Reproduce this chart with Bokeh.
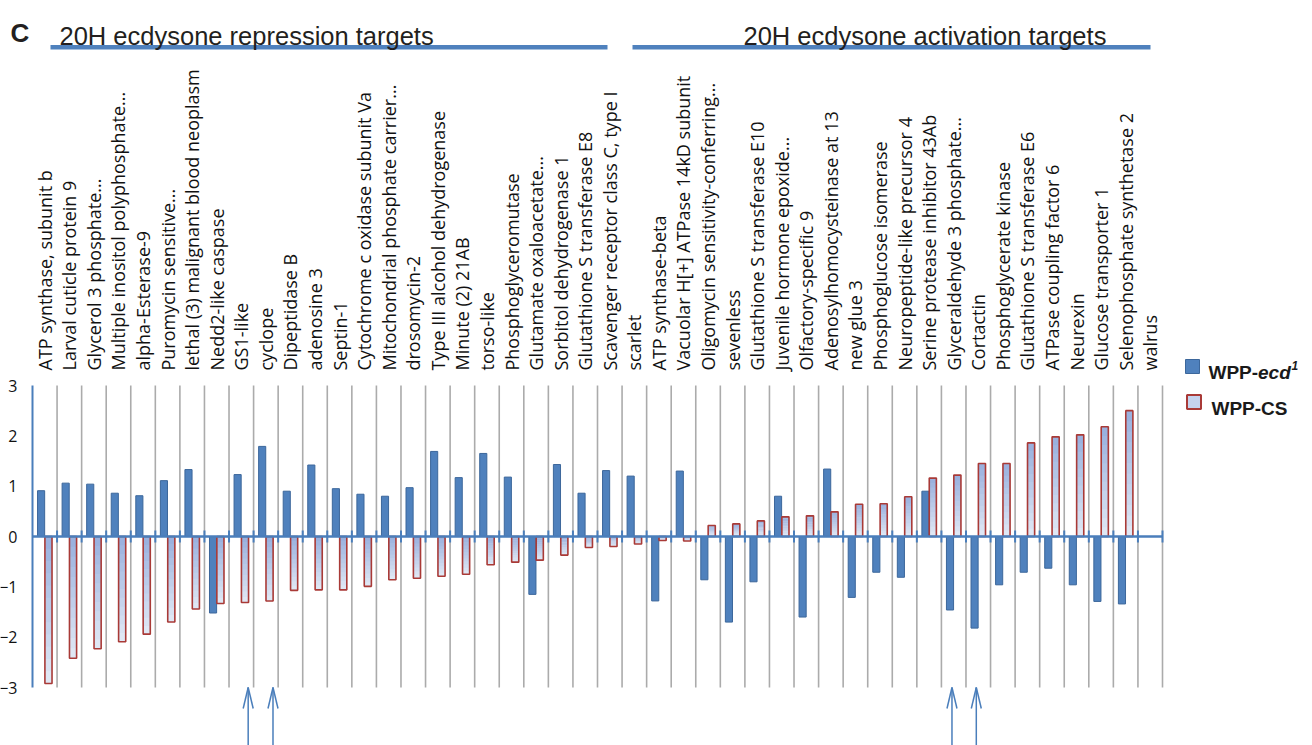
import math
import numpy as np
from bokeh.plotting import figure
from bokeh.models import Range1d, FixedTicker, Label
from bokeh.core.properties import value
from bokeh.embed import file_html
from bokeh.resources import INLINE

# ---------------- data ----------------
categories = [
    "ATP synthase, subunit b", "Larval cuticle protein 9", "Glycerol 3 phosphate...",
    "Multiple inositol polyphosphate...", "alpha-Esterase-9", "Puromycin sensitive...",
    "lethal (3) malignant blood neoplasm", "Nedd2-like caspase", "GS1-like", "cyclope",
    "Dipeptidase B", "adenosine 3", "Septin-1", "Cytochrome c oxidase subunit Va",
    "Mitochondrial phosphate carrier...", "drosomycin-2", "Type III alcohol dehydrogenase",
    "Minute (2) 21AB", "torso-like", "Phosphoglyceromutase", "Glutamate oxaloacetate...",
    "Sorbitol dehydrogenase 1", "Glutathione S transferase E8",
    "Scavenger receptor class C, type I", "scarlet", "ATP synthase-beta",
    "Vacuolar H[+] ATPase 14kD subunit", "Oligomycin sensitivity-conferring...",
    "sevenless", "Glutathione S transferase E10", "Juvenile hormone epoxide...",
    "Olfactory-specific 9", "Adenosylhomocysteinase at 13", "new glue 3",
    "Phosphoglucose isomerase", "Neuropeptide-like precursor 4",
    "Serine protease inhibitor 43Ab", "Glyceraldehyde 3 phosphate...", "Cortactin",
    "Phosphoglycerate kinase", "Glutathione S transferase E6", "ATPase coupling factor 6",
    "Neurexin", "Glucose transporter 1", "Selenophosphate synthetase 2", "walrus",
]

wpp_ecd = [0.91, 1.06, 1.04, 0.86, 0.81, 1.11, 1.33, -1.52, 1.23, 1.79,
           0.90, 1.42, 0.95, 0.84, 0.80, 0.97, 1.69, 1.17, 1.65, 1.18,
           -1.15, 1.43, 0.86, 1.31, 1.20, -1.28, 1.30, -0.86, -1.70, -0.90,
           0.80, -1.60, 1.34, -1.21, -0.71, -0.81, 0.90, -1.46, -1.82, -0.96,
           -0.71, -0.63, -0.96, -1.29, -1.34, float("nan")]

wpp_cs = [-2.92, -2.42, -2.23, -2.09, -1.94, -1.70, -1.44, -1.33, -1.31, -1.28,
          -1.07, -1.06, -1.06, -0.99, -0.86, -0.83, -0.79, -0.75, -0.56, -0.51,
          -0.47, -0.37, -0.22, -0.20, -0.15, -0.08, -0.09, 0.22, 0.25, 0.31,
          0.39, 0.41, 0.49, 0.64, 0.65, 0.79, 1.16, 1.22, 1.45, 1.45,
          1.86, 1.98, 2.02, 2.18, 2.50, float("nan")]

y_ticks = [-3, -2, -1, 0, 1, 2, 3]
group_titles = ["20H ecdysone repression targets", "20H ecdysone activation targets"]
panel_letter = "C"
series_names = ["WPP-", "ecd", "1", "WPP-CS"]
arrow_genes = ["GS1-like", "cyclope", "Glyceraldehyde 3 phosphate...", "Cortactin"]

# ---------------- layout (pixels) ----------------
W, H = 1312, 745
X0_PX = 32            # pixel column of x = 0 (the value axis)
n = len(categories)
PX_PER_X = 1130 / n
ZERO_PX = 536
PX_PER_Y = 302 / 6.0


def dx(px):
    return (px - X0_PX) / PX_PER_X


def dy(py):
    return (ZERO_PX - py) / PX_PER_Y


BLUE = "#4F81BD"
BLUE_EDGE = "#3C679B"
AXIS_BLUE = "#4A7EBB"
LIGHT = "#C5D3EE"
RED_EDGE = "#A93A37"
GRAD_TOP = np.array([0x97, 0xAF, 0xDD])
GRAD_BOT = np.array([0xE2, 0xE9, 0xF5])

p = figure(width=W, height=H, output_backend="svg", toolbar_location=None,
           x_axis_location=None, title=None,
           x_range=Range1d(dx(0), dx(W)), y_range=Range1d(dy(H), dy(0)),
           min_border_left=0, min_border_right=0, min_border_top=0, min_border_bottom=0)
p.outline_line_color = None
p.xgrid.visible = False
p.ygrid.visible = False
p.background_fill_color = "white"
p.border_fill_color = "white"

centers = np.arange(n) + 0.5
bounds = np.arange(1, n + 1)

# vertical category separators
p.segment(x0=bounds, y0=y_ticks[0], x1=bounds, y1=y_ticks[-1],
          line_color="#ABABAB", line_width=1.6)

# WPP-ecd1 bars
p.vbar(x=centers - 0.15, width=0.29, top=np.array(wpp_ecd), bottom=0,
       fill_color=BLUE, line_color=BLUE_EDGE, line_width=1)

# WPP-CS bars: vertical gradient fill (dark at top, light at bottom) + red outline
cs = np.array(wpp_cs)
K = 12
gl, gr, gb, gt, gc = [], [], [], [], []
for xc, v in zip(centers + 0.15, cs):
    if np.isnan(v):
        continue
    lo, hi = min(0.0, v), max(0.0, v)
    for k in range(K):
        f = (k + 0.5) / K
        c = GRAD_BOT + (GRAD_TOP - GRAD_BOT) * f
        gl.append(xc - 0.145)
        gr.append(xc + 0.145)
        gb.append(lo + (hi - lo) * k / K)
        gt.append(min(hi, lo + (hi - lo) * (k + 1.15) / K))
        gc.append("#%02x%02x%02x" % tuple(int(round(t)) for t in c))
p.quad(left=gl, right=gr, bottom=gb, top=gt, fill_color=gc, line_color=None)
p.vbar(x=centers + 0.15, width=0.29, top=cs, bottom=0,
       fill_color=None, line_color=RED_EDGE, line_width=1.6)

# zero axis with tick marks at category boundaries
p.segment(x0=[0], y0=[0], x1=[n], y1=[0], line_color=AXIS_BLUE, line_width=2.5)
tk = 6 / PX_PER_Y
p.segment(x0=bounds, y0=-tk, x1=bounds, y1=tk, line_color=AXIS_BLUE, line_width=2)

# category labels (rotated)
p.text(x=centers, y=dy(370), text=categories, angle=math.pi / 2,
       text_align="left", text_baseline="middle",
       text_font=value("Open Sans"), text_font_size="18px", text_color="#111111")

# y axis, drawn at x = 0 inside the canvas
ya = p.yaxis[0]
ya.fixed_location = 0
ya.ticker = FixedTicker(ticks=y_ticks)
ya.bounds = (y_ticks[0], y_ticks[-1])
ya.axis_line_color = AXIS_BLUE
ya.axis_line_width = 2
ya.major_tick_line_color = None
ya.minor_tick_line_color = None
ya.major_label_text_font = "Open Sans"
ya.major_label_text_font_size = "16px"
ya.major_label_text_color = "#111111"
ya.major_label_standoff = 9

# arrows under marked genes
arrow_offsets = [0.28, 0.29, -0.07, -0.08]
ax = np.array([categories.index(g) + 0.5 + o for g, o in zip(arrow_genes, arrow_offsets)])
tip = y_ticks[0]
hw = 5 / PX_PER_X
hl = 21 / PX_PER_Y
p.segment(x0=ax, y0=dy(H + 5), x1=ax, y1=tip, line_color=AXIS_BLUE, line_width=1.5)
p.segment(x0=ax - hw, y0=tip - hl, x1=ax, y1=tip, line_color=AXIS_BLUE, line_width=1.5)
p.segment(x0=ax + hw, y0=tip - hl, x1=ax, y1=tip, line_color=AXIS_BLUE, line_width=1.5)

# group title bars and titles
p.segment(x0=[dx(50), dx(632)], y0=dy(46.7), x1=[dx(607), dx(1150)], y1=dy(46.7),
          line_color=BLUE, line_width=4.5)
p.add_layout(Label(x=dx(59), y=dy(35), text=group_titles[0], text_font="Liberation Sans",
                   text_font_size="25.5px", text_color="#231F20", text_baseline="alphabetic"))
p.add_layout(Label(x=dx(743), y=dy(35), text=group_titles[1], text_font="Liberation Sans",
                   text_font_size="25.5px", text_color="#231F20", text_baseline="alphabetic"))
p.add_layout(Label(x=dx(10), y=dy(32), text=panel_letter,
                   text_font="Liberation Sans", text_font_size="26px",
                   text_font_style="bold", text_color="#231F20", text_baseline="alphabetic"))

# legend
p.rect(x=[dx(1192)], y=[dy(366)], width=14, height=14, width_units="screen",
       height_units="screen", fill_color=BLUE, line_color=BLUE_EDGE, line_width=1)
p.rect(x=[dx(1193.5)], y=[dy(401.5)], width=14, height=14, width_units="screen",
       height_units="screen", fill_color=LIGHT, line_color=RED_EDGE, line_width=2)
leg = dict(text_font="Liberation Sans", text_font_size="19px", text_color="#1A1A1A",
           text_baseline="alphabetic")
p.add_layout(Label(x=dx(1208), y=dy(372), text=series_names[0], text_font_style="bold", **leg))
p.add_layout(Label(x=dx(1257.5), y=dy(372), text=series_names[1],
                   text_font_style="bold italic", **leg))
p.add_layout(Label(x=dx(1291), y=dy(365), text=series_names[2], text_font="Liberation Sans",
                   text_font_size="12px", text_font_style="bold italic",
                   text_color="#1A1A1A", text_baseline="alphabetic"))
p.add_layout(Label(x=dx(1211), y=dy(408), text=series_names[3], text_font_style="bold", **leg))

open("out.html", "w").write(file_html(p, INLINE))
